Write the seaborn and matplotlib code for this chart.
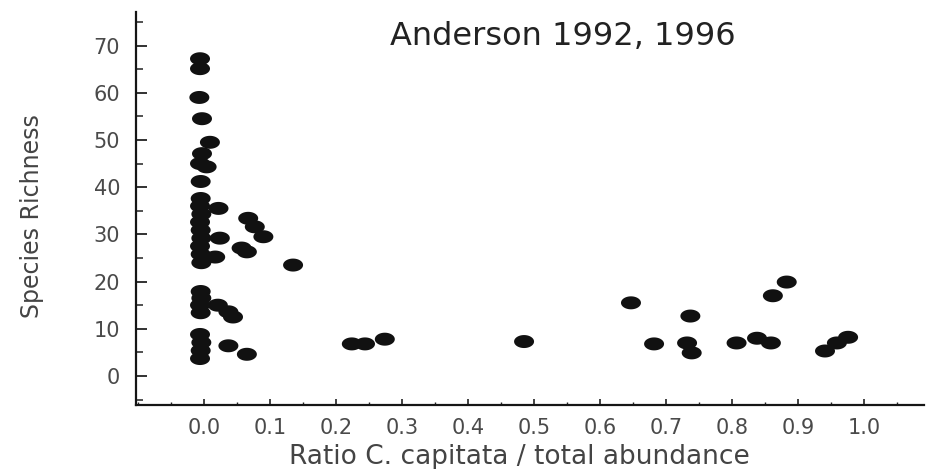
import numpy as np
import pandas as pd
import matplotlib
matplotlib.use("Agg")
import matplotlib.pyplot as plt
from matplotlib.path import Path
from matplotlib.ticker import FixedLocator, MultipleLocator
import seaborn as sns

# Ratio of C. capitata to total abundance per sample
ratio = [
    # samples with almost no C. capitata
    -0.006, -0.006, -0.007, -0.003, 0.009, -0.003, -0.006, 0.004, -0.005,
    -0.005, -0.006, -0.004, -0.006, -0.005, -0.004, -0.006, -0.005, -0.004,
    -0.005, -0.004, -0.006, -0.005,
    -0.006, -0.004, -0.005, -0.006,
    0.022, 0.024, 0.017, 0.021, 0.037, 0.044, 0.037, 0.065,
    # low ratios
    0.067, 0.077, 0.090, 0.057, 0.065, 0.135,
    # intermediate ratios
    0.224, 0.244, 0.274, 0.485,
    # C. capitata dominated samples
    0.647, 0.682, 0.737, 0.732, 0.739, 0.807, 0.838, 0.859, 0.862, 0.883,
    0.941, 0.959, 0.976,
]

# Species richness of the same samples
richness = [
    67.2, 65.1, 59.0, 54.5, 49.5, 47.1, 45.0, 44.3, 41.2,
    37.6, 36.0, 34.3, 32.6, 30.9, 29.2, 27.5, 25.8, 24.0,
    17.9, 16.5, 15.0, 13.4,
    8.8, 7.1, 5.4, 3.7,
    35.5, 29.2, 25.2, 15.0, 13.6, 12.5, 6.4, 4.6,
    33.4, 31.6, 29.5, 27.1, 26.3, 23.5,
    6.8, 6.8, 7.8, 7.3,
    15.5, 6.8, 12.7, 7.0, 4.9, 7.0, 8.0, 7.0, 17.0, 19.9,
    5.3, 7.0, 8.2,
]

x_ticks = [0.0, 0.1, 0.2, 0.3, 0.4, 0.5, 0.6, 0.7, 0.8, 0.9, 1.0]
x_tick_labels = ["0.0", "0.1", "0.2", "0.3", "0.4", "0.5",
                 "0.6", "0.7", "0.8", "0.9", "1.0"]
y_ticks = [0, 10, 20, 30, 40, 50, 60, 70]
y_tick_labels = ["0", "10", "20", "30", "40", "50", "60", "70"]

title = "Anderson 1992, 1996"
x_label = "Ratio C. capitata / total abundance"
y_label = "Species Richness"

sns.set_style("white")
plt.rcParams["font.family"] = ["DejaVu Sans"]

df = pd.DataFrame({"ratio": ratio, "richness": richness})

# flattened blob used as the point marker
theta = np.linspace(0, 2 * np.pi, 64)
blob = Path(np.column_stack([np.cos(theta), 0.65 * np.sin(theta)]), closed=True)

fig = plt.figure(figsize=(9.28, 4.69), dpi=100)
ax = fig.add_axes([136 / 928, 1 - 405 / 469, 788 / 928, 393 / 469])

sns.scatterplot(data=df, x="ratio", y="richness", ax=ax, marker=blob,
                s=207, color="#111111", edgecolor="none", linewidth=0,
                legend=False)

ax.set_xlim(-0.103, 1.091)
ax.set_ylim(-6.14, 77.1)

ax.xaxis.set_major_locator(FixedLocator(x_ticks))
ax.set_xticklabels(x_tick_labels)
ax.xaxis.set_minor_locator(MultipleLocator(0.05))
ax.yaxis.set_major_locator(FixedLocator(y_ticks))
ax.set_yticklabels(y_tick_labels)
ax.yaxis.set_minor_locator(MultipleLocator(5))

ax.tick_params(which="both", direction="in", color="#222222",
               bottom=True, left=True, top=False, right=False)
ax.tick_params(axis="y", which="major", length=8, width=1.3, pad=11.5,
               labelsize=15, labelcolor="#4a4a4a")
ax.tick_params(axis="y", which="minor", length=5, width=1.1)
ax.tick_params(axis="x", which="major", length=4, width=1.2, pad=9,
               labelsize=15, labelcolor="#4a4a4a")
ax.tick_params(axis="x", which="minor", length=2, width=1.0)

sns.despine(ax=ax)
for side in ("left", "bottom"):
    ax.spines[side].set_color("#151515")
    ax.spines[side].set_linewidth(1.6)

ax.set_xlabel(x_label, fontsize=19, color="#444444")
ax.xaxis.label.set_va("center")
ax.xaxis.set_label_coords(0.487, -0.132)

ax.set_ylabel(y_label, fontsize=17, color="#444444")
ax.yaxis.label.set_va("center")
ax.yaxis.set_label_coords(-0.132, 0.481)

ax.text(0.542, 0.916, title, transform=ax.transAxes, ha="center",
        va="baseline", fontsize=23, color="#222222")

fig.savefig("out.png", dpi=100)
